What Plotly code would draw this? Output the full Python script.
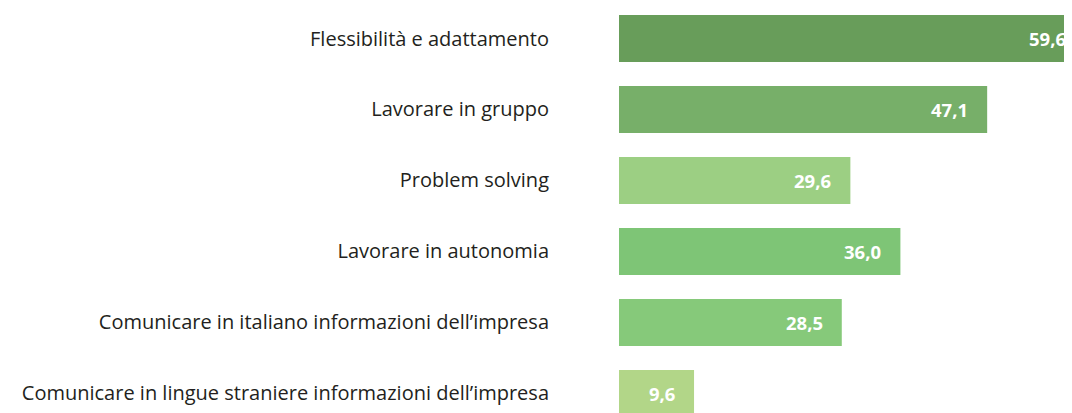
import plotly.graph_objects as go

categories = [
    "Flessibilità e adattamento",
    "Lavorare in gruppo",
    "Problem solving",
    "Lavorare in autonomia",
    "Comunicare in italiano informazioni dell\u2019impresa",
    "Comunicare in lingue straniere informazioni dell\u2019impresa",
]
values = [59.6, 47.1, 29.6, 36.0, 28.5, 9.6]
value_labels = ["59,6", "47,1", "29,6", "36,0", "28,5", "9,6"]
colors = ["#689D5A", "#77AF69", "#9CCF83", "#7EC576", "#86C97A", "#B2D688"]

y_pos = list(range(len(categories)))

fig = go.Figure(go.Bar(
    y=y_pos,
    x=values,
    orientation="h",
    marker=dict(color=colors, line=dict(width=0)),
    width=0.662,
    hoverinfo="skip",
))

for yv, xv, lab in zip(y_pos, values, value_labels):
    fig.add_annotation(
        x=xv, y=yv, xref="x", yref="y",
        text=lab, showarrow=False,
        xanchor="right", yanchor="middle", xshift=-17,
        font=dict(family="Open Sans", size=18.5, color="white", weight="bold"),
    )

# page body has an 8px margin: figure starts at (8, 8); plot area extends past the
# right edge of the window, like the reference where the longest bar is cut off
fig.update_layout(
    width=1080,
    height=405,
    margin=dict(l=611, r=0, t=0, b=0),
    paper_bgcolor="white",
    plot_bgcolor="white",
    showlegend=False,
)
fig.update_xaxes(range=[0, 60.0], visible=False, fixedrange=True)
fig.update_yaxes(
    range=[5.275, -0.4296],
    tickmode="array",
    tickvals=y_pos,
    ticktext=categories,
    showgrid=False,
    zeroline=False,
    showline=False,
    ticks="",
    ticklabelstandoff=69,
    tickfont=dict(family="Open Sans", size=20, color="#231F20"),
    automargin=False,
    fixedrange=True,
)

fig.write_html("out.html")
